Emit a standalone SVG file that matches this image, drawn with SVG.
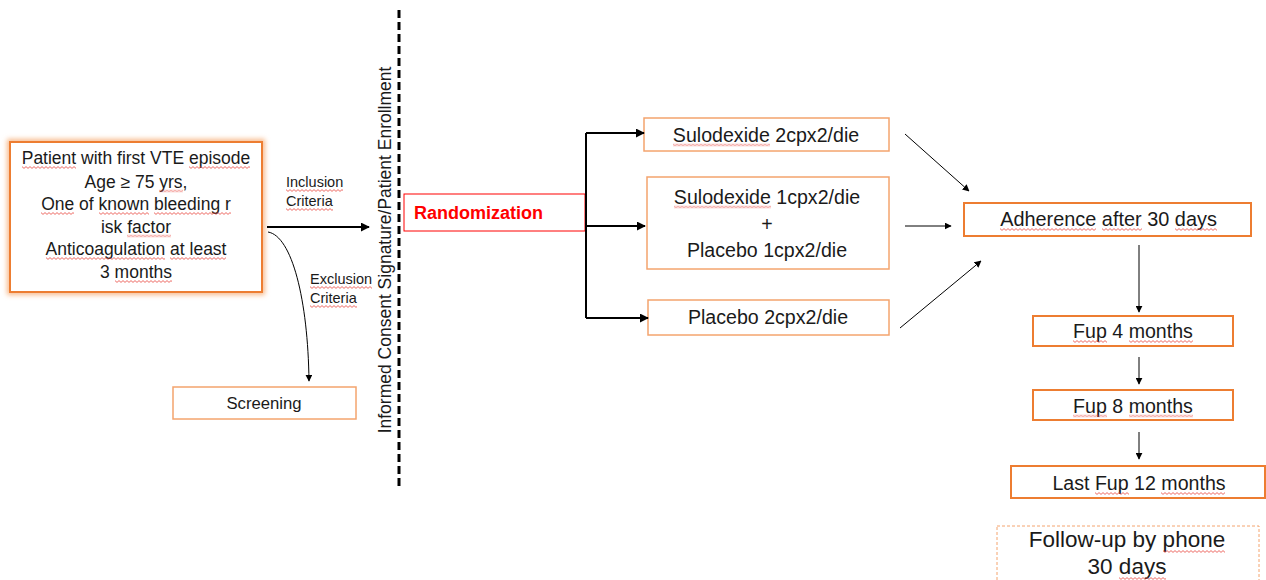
<svg xmlns="http://www.w3.org/2000/svg" width="1266" height="580" viewBox="0 0 1266 580">
<defs>
<marker id="ah" viewBox="0 0 10 10" refX="9" refY="5" markerWidth="7" markerHeight="7" markerUnits="userSpaceOnUse" orient="auto"><path d="M0,0 L10,5 L0,10 z" fill="#000"/></marker>
<marker id="ahb" viewBox="0 0 10 10" refX="9" refY="5" markerWidth="9" markerHeight="9" markerUnits="userSpaceOnUse" orient="auto"><path d="M0,0 L10,5 L0,10 z" fill="#000"/></marker>
<filter id="glow" x="-10%" y="-10%" width="120%" height="120%"><feGaussianBlur stdDeviation="2.5"/></filter>
<pattern id="wave" patternUnits="userSpaceOnUse" width="4" height="3"><path d="M0,0.6 L2,2.4 L4,0.6" fill="none" stroke="#E8453C" stroke-width="0.8"/></pattern>
</defs>
<style>
.box{fill:#fff;stroke:#F4A46E;stroke-width:1.5}
.boxb{fill:#fff;stroke:#ED7D31;stroke-width:2}
.t{font-family:"Liberation Sans",Arial,sans-serif;font-size:19.6px;fill:#1a1a1a;text-anchor:middle}
.p{font-size:17.5px}
.s{font-family:"Liberation Sans",Arial,sans-serif;font-size:14.5px;fill:#1a1a1a}
.c{fill:none;stroke:#000;stroke-width:1}
.cb{fill:none;stroke:#000;stroke-width:2}
.w{fill:url(#wave)}
</style>
<g id="patient">
<rect x="10" y="142" width="252" height="150" fill="none" stroke="#F8B98A" stroke-width="6" filter="url(#glow)"/>
<rect x="10" y="142" width="252" height="150" class="boxb"/>
<text class="t p" x="136" y="164">Patient with first VTE episode</text>
<text class="t p" x="136" y="187.5">Age ≥ 75 yrs,</text>
<text class="t p" x="136" y="210">One of known bleeding r</text>
<text class="t p" x="136" y="232.5">isk factor</text>
<text class="t p" x="136" y="255">Anticoagulation at least</text>
<text class="t p" x="136" y="278">3 months</text>
<rect class="w" transform="translate(22,166)" width="54" height="3"/>
<rect class="w" transform="translate(189,166)" width="61" height="3"/>
<rect class="w" transform="translate(159,189.5)" width="24" height="3"/>
<rect class="w" transform="translate(41,212)" width="33" height="3"/>
<rect class="w" transform="translate(99,212)" width="50" height="3"/>
<rect class="w" transform="translate(154,212)" width="77" height="3"/>
<rect class="w" transform="translate(127,234.5)" width="44" height="3"/>
<rect class="w" transform="translate(46,257)" width="119" height="3"/>
<rect class="w" transform="translate(170,257)" width="56" height="3"/>
<rect class="w" transform="translate(115,280)" width="57" height="3"/>
</g>
<g id="labels">
<text class="s" x="286" y="187">Inclusion</text>
<text class="s" x="286" y="206">Criteria</text>
<text class="s" x="310" y="284">Exclusion</text>
<text class="s" x="310" y="303">Criteria</text>
<rect class="w" transform="translate(286,189)" width="57" height="3"/>
<rect class="w" transform="translate(286,208)" width="47" height="3"/>
<rect class="w" transform="translate(310,286)" width="62" height="3"/>
<rect class="w" transform="translate(310,305)" width="47" height="3"/>
</g>
<g id="screening">
<rect x="173" y="387" width="183" height="32" class="box"/>
<text class="t" x="264" y="409" style="font-size:16.7px">Screening</text>
</g>
<g id="enrollment">
<line x1="399" y1="10" x2="399" y2="487" stroke="#000" stroke-width="3" stroke-dasharray="8,4"/>
<text transform="translate(391,250) rotate(-90)" font-family="Liberation Sans,Arial,sans-serif" font-size="17.5" fill="#1a1a1a" text-anchor="middle">Informed Consent Signature/Patient Enrollment</text>
</g>
<g id="randomization">
<rect x="404" y="194" width="181" height="37" fill="#fff" stroke="#FF0000" stroke-width="1"/>
<text x="414" y="219" font-family="Liberation Sans,Arial,sans-serif" font-size="18" font-weight="bold" fill="#FF0000">Randomization</text>
</g>
<g id="arm1">
<rect x="644" y="118" width="245" height="33" class="box"/>
<text class="t" x="766" y="141.5">Sulodexide 2cpx2/die</text>
<rect class="w" transform="translate(673,143.5)" width="97" height="3"/>
</g>
<g id="arm2">
<rect x="647" y="177" width="242" height="92" class="box"/>
<text class="t" x="767" y="203.5">Sulodexide 1cpx2/die</text>
<text class="t" x="767" y="230.5">+</text>
<text class="t" x="767" y="256.5">Placebo 1cpx2/die</text>
<rect class="w" transform="translate(674,205.5)" width="97" height="3"/>
</g>
<g id="arm3">
<rect x="648" y="300" width="241" height="35" class="box"/>
<text class="t" x="768" y="323.5">Placebo 2cpx2/die</text>
</g>
<g id="adherence">
<rect x="964" y="203" width="287" height="33" class="boxb"/>
<text class="t" x="1108.5" y="226" style="font-size:19.9px">Adherence after 30 days</text>
<rect class="w" transform="translate(1000,228)" width="96" height="3"/>
<rect class="w" transform="translate(1102,228)" width="40" height="3"/>
<rect class="w" transform="translate(1175,228)" width="42" height="3"/>
</g>
<g id="fup4">
<rect x="1033" y="316" width="200" height="30" class="boxb"/>
<text class="t" x="1133" y="338">Fup 4 months</text>
<rect class="w" transform="translate(1073,340)" width="34" height="3"/>
<rect class="w" transform="translate(1129,340)" width="64" height="3"/>
</g>
<g id="fup8">
<rect x="1033" y="390" width="200" height="30" class="boxb"/>
<text class="t" x="1133" y="412.5">Fup 8 months</text>
<rect class="w" transform="translate(1073,414.5)" width="34" height="3"/>
<rect class="w" transform="translate(1129,414.5)" width="64" height="3"/>
</g>
<g id="fup12">
<rect x="1011" y="466" width="254" height="32" class="boxb"/>
<text class="t" x="1139" y="490">Last Fup 12 months</text>
<rect class="w" transform="translate(1095,492)" width="34" height="3"/>
<rect class="w" transform="translate(1161,492)" width="64" height="3"/>
</g>
<g id="phone">
<rect x="997" y="526" width="262" height="60" fill="#fff" stroke="#F4A46E" stroke-width="1" stroke-dasharray="3,2"/>
<text class="t" x="1127" y="547" style="font-size:22.5px">Follow-up by phone</text>
<text class="t" x="1127" y="574" style="font-size:22.5px">30 days</text>
<rect class="w" transform="translate(1163,550)" width="62" height="3"/>
<rect class="w" transform="translate(1119,577)" width="47" height="3"/>
</g>
<g id="connectors">
<line class="cb" x1="267" y1="227" x2="369" y2="227" marker-end="url(#ahb)"/>
<path class="c" d="M268,232 C292,236 308,300 309,381" marker-end="url(#ah)"/>
<path class="cb" d="M585,226 L586,226 M586,133 L586,318"/>
<line class="cb" x1="586" y1="133" x2="644" y2="133" marker-end="url(#ahb)"/>
<line class="cb" x1="586" y1="226" x2="645" y2="226" marker-end="url(#ahb)"/>
<line class="cb" x1="586" y1="318" x2="648" y2="318" marker-end="url(#ahb)"/>
<line class="c" x1="905" y1="134" x2="969" y2="191" marker-end="url(#ah)"/>
<line class="c" x1="905" y1="226" x2="951" y2="226" marker-end="url(#ah)"/>
<line class="c" x1="900" y1="328" x2="981" y2="261" marker-end="url(#ah)"/>
<line class="c" x1="1139" y1="245" x2="1139" y2="312" marker-end="url(#ah)"/>
<line class="c" x1="1139" y1="357" x2="1139" y2="384" marker-end="url(#ah)"/>
<line class="c" x1="1139" y1="432" x2="1139" y2="459" marker-end="url(#ah)"/>
</g>
</svg>
